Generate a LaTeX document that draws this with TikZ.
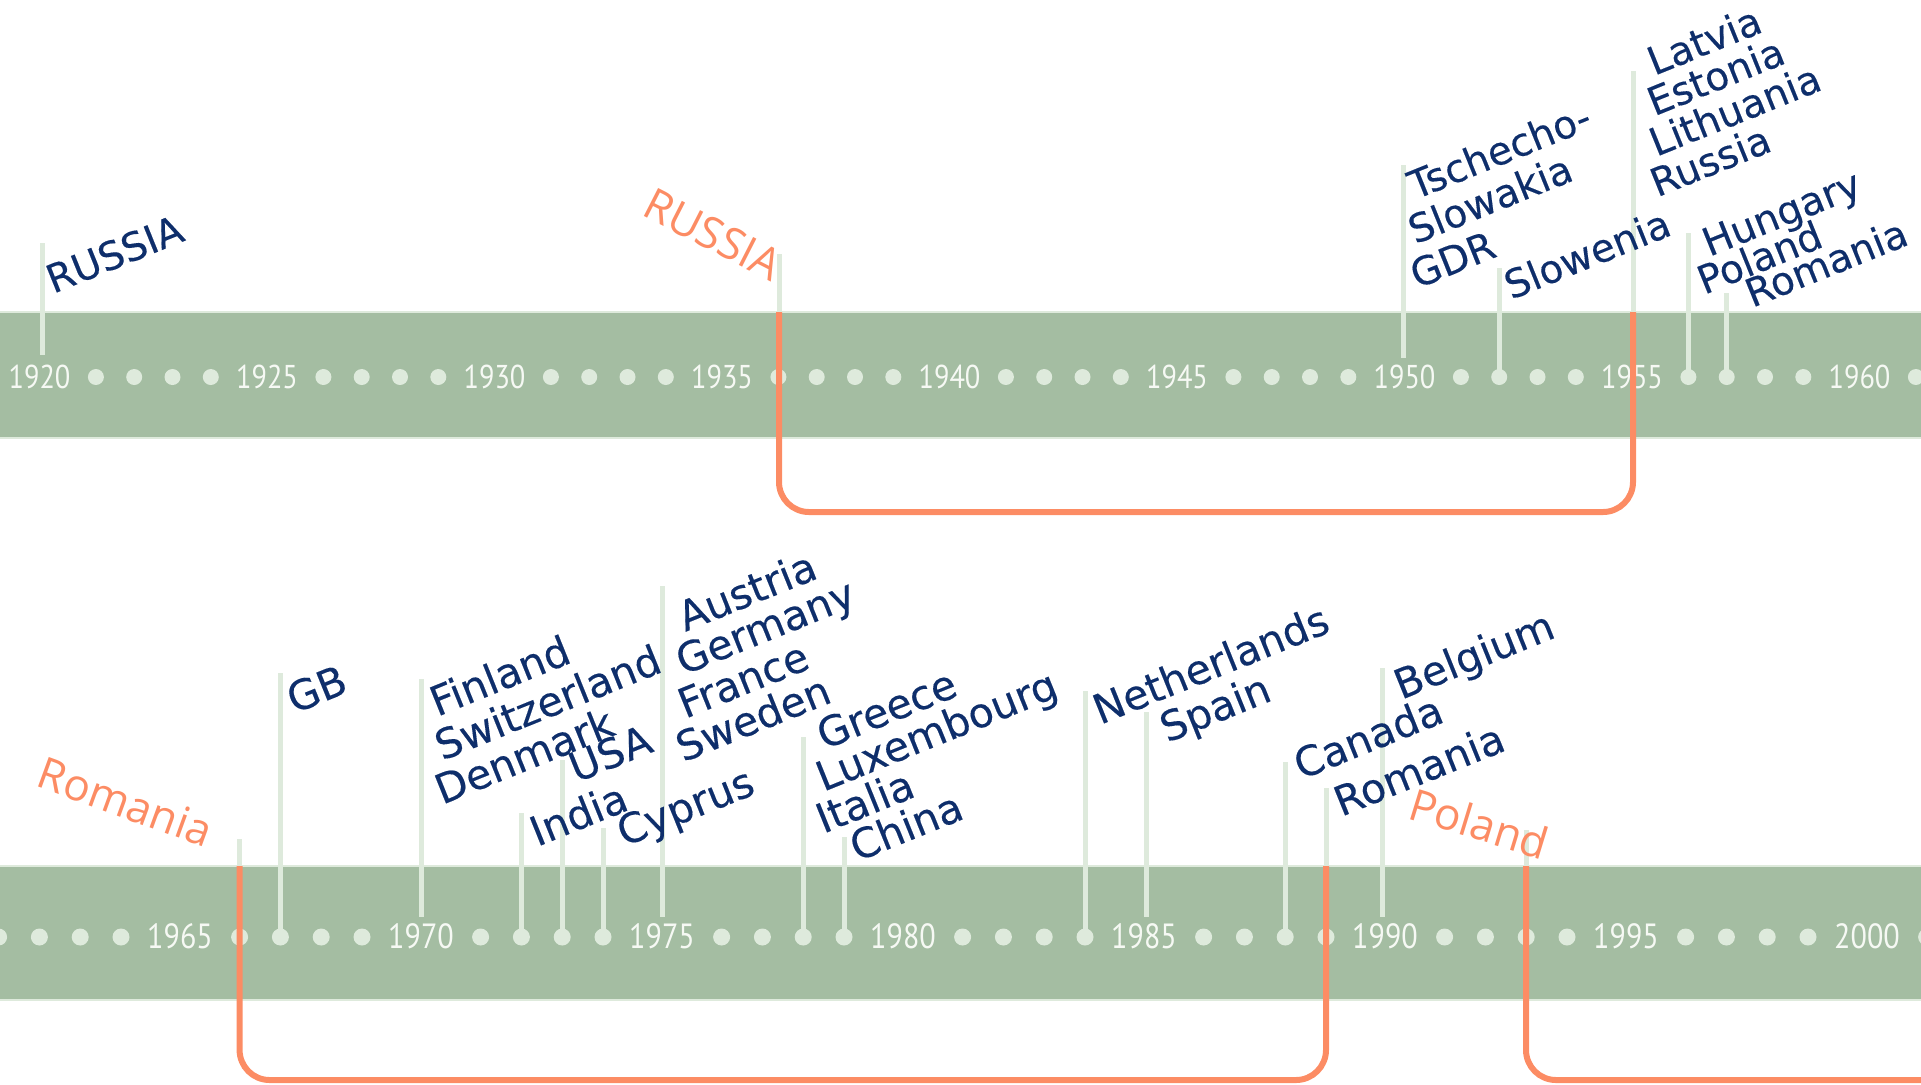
\documentclass[tikz,border=0pt]{standalone}
\usepackage{fontspec}
\setmainfont{DejaVu Sans}
\newfontfamily\navyfont{DejaVu Sans}[FakeBold=0.3]
\newfontfamily\yearfont{PT Sans}
\newfontfamily\orfont{Open Sans}
\definecolor{band}{RGB}{164,189,162}
\definecolor{pale}{RGB}{222,234,220}
\definecolor{navy}{RGB}{14,46,107}
\definecolor{salmon}{RGB}{252,140,100}
\definecolor{yeartext}{RGB}{246,249,244}
\begin{document}
\begin{tikzpicture}[x=0.5pt,y=-0.5pt,
  yeartop/.style={text=yeartext, font=\yearfont\fontsize{16.5}{18}\selectfont, inner sep=0pt, xscale=0.86},
  yearbot/.style={text=yeartext, font=\yearfont\fontsize{17.5}{19}\selectfont, inner sep=0pt, xscale=0.86},
  dottop/.style={circle, fill=pale, inner sep=0pt, minimum size=8pt},
  dotbot/.style={circle, fill=pale, inner sep=0pt, minimum size=8.5pt},
  stem/.style={draw=pale, line width=2.5pt},
  link/.style={draw=salmon, line width=3pt, rounded corners=15pt},
  navytop/.style={text=navy, font=\navyfont\fontsize{19.5}{21}\selectfont, anchor=base west, inner sep=0pt, xshift=2pt, rotate=22},
  navybot/.style={text=navy, font=\navyfont\fontsize{20.5}{22}\selectfont, anchor=base west, inner sep=0pt, xshift=2pt, rotate=22},
  orlabel/.style={text=salmon, font=\orfont\fontsize{22}{24}\selectfont, anchor=base east, inner sep=0pt},
]
\useasboundingbox (0,0) rectangle (1921,1084);
\clip (0,0) rectangle (1921,1084);
% bands
\fill[band] (0,312) rectangle (1921,438);
\fill[band] (0,866) rectangle (1921,1000);
\draw[pale, line width=0.6pt] (0,312) -- (1921,312) (0,438) -- (1921,438);
\draw[pale, line width=0.6pt] (0,866) -- (1921,866) (0,1000) -- (1921,1000);
% top years and dots
\foreach \k in {0,...,8} {
  \pgfmathtruncatemacro\yr{1920+5*\k}
  \node[yeartop] (yr\yr) at ({39.5+227.5*\k},377) {\yr};
  \foreach \j in {0,...,3} {
    \node[dottop] (dt\yr\j) at ({39.5+227.5*\k+56.4+38.3*\j},377) {};
  }
}
% bottom years and dots
\foreach \j in {0,...,3} {
  \node[dotbot] (db1960\j) at ({180-241+59.6+40.8*\j},937) {};
}
\foreach \k in {0,...,7} {
  \pgfmathtruncatemacro\yr{1965+5*\k}
  \node[yearbot] (yr\yr) at ({180+241*\k},936) {\yr};
  \foreach \j in {0,...,3} {
    \node[dotbot] (db\yr\j) at ({180+241*\k+59.6+40.8*\j},937) {};
  }
}
% ---- top stems
\coordinate (b1920) at (42,355);   \coordinate (t1920) at (42,243);
\coordinate (b1936) at (779,312);  \coordinate (t1936) at (779,254);
\coordinate (b1950) at (1403,358); \coordinate (t1950) at (1403,165);
\coordinate (b1952) at (1499,377); \coordinate (t1952) at (1499,268);
\coordinate (b1955) at (1633,312); \coordinate (t1955) at (1633,71);
\coordinate (b1956) at (1688.4,377); \coordinate (t1956) at (1688.4,233);
\coordinate (b1957) at (1726.7,377); \coordinate (t1957) at (1726.7,293);
\foreach \e in {1920,1936,1950,1952,1955,1956,1957} { \draw[stem] (b\e) -- (t\e); }
% ---- bottom stems
\coordinate (b1966) at (239.6,866); \coordinate (t1966) at (239.6,839);
\coordinate (b1967) at (280.4,937); \coordinate (t1967) at (280.4,673);
\coordinate (b1970) at (421,917);   \coordinate (t1970) at (421,679);
\coordinate (b1972) at (521.4,937); \coordinate (t1972) at (521.4,813);
\coordinate (b1973) at (562.2,937); \coordinate (t1973) at (562.2,760);
\coordinate (b1974) at (603,937);   \coordinate (t1974) at (603,828);
\coordinate (b1975) at (662,917);   \coordinate (t1975) at (662,586);
\coordinate (b1978) at (803.2,937); \coordinate (t1978) at (803.2,737);
\coordinate (b1979) at (844,937);   \coordinate (t1979) at (844,837);
\coordinate (b1984) at (1085,937);  \coordinate (t1984) at (1085,691);
\coordinate (b1985) at (1146,917);  \coordinate (t1985) at (1146,712);
\coordinate (b1988) at (1285.2,937); \coordinate (t1988) at (1285.2,762);
\coordinate (b1989) at (1326,866);  \coordinate (t1989) at (1326,788);
\coordinate (b1990) at (1382,917);  \coordinate (t1990) at (1382,668);
\coordinate (b1993) at (1526,866);  \coordinate (t1993) at (1526,830);
\foreach \e in {1966,1967,1970,1972,1973,1974,1975,1978,1979,1984,1985,1988,1989,1990,1993} { \draw[stem] (b\e) -- (t\e); }
% ---- orange links
\coordinate (lowA) at (0,512);
\coordinate (lowB) at (0,1080);
\coordinate (rightend) at (1940,1080);
\draw[link] (b1936) -- (b1936 |- lowA) -- (b1955 |- lowA) -- (b1955);
\draw[link] (b1966) -- (b1966 |- lowB) -- (b1989 |- lowB) -- (b1989);
\draw[link] (b1993) -- (b1993 |- lowB) -- (rightend);
% ---- top labels
\node[navytop] (l1920) at (49,294) {RUSSIA};
\node[navytop] (l1950a) at (1411,200) {Tschecho-};
\node[navytop] (l1950b) at (1411,244.5) {Slowakia};
\node[navytop] (l1950c) at (1413,289) {GDR};
\node[navytop] (l1952) at (1507,300) {Slowenia};
\node[navytop] (l1955a) at (1650,76) {Latvia};
\node[navytop] (l1955b) at (1650,116.5) {Estonia};
\node[navytop] (l1955c) at (1652,157) {Lithuania};
\node[navytop] (l1955d) at (1653,197.5) {Russia};
\node[navytop] (l1956a) at (1705,257) {Hungary};
\node[navytop] (l1956b) at (1700,295) {Poland};
\node[navytop] (l1957) at (1748,308) {Romania};
\node[orlabel, rotate=-27] (o1936) at (772,282) {RUSSIA};
% ---- bottom labels
\node[navybot] (l1967) at (290,714) {GB};
\node[navybot] (l1970a) at (433,717) {Finland};
\node[navybot] (l1970b) at (438,761) {Switzerland};
\node[navybot] (l1970c) at (438,805) {Denmark};
\node[navybot] (l1972) at (533,847) {India};
\node[navybot] (l1973) at (572,783) {USA};
\node[navybot] (l1974) at (620,847) {Cyprus};
\node[navybot] (l1975a) at (681,632) {Austria};
\node[navybot] (l1975b) at (679,675.5) {Germany};
\node[navybot] (l1975c) at (681,719) {France};
\node[navybot] (l1975d) at (679,762.5) {Sweden};
\node[navybot] (l1978a) at (820,750) {Greece};
\node[navybot] (l1978b) at (819,792) {Luxembourg};
\node[navybot] (l1978c) at (819,834) {Italia};
\node[navybot] (l1979) at (853,862) {China};
\node[navybot] (l1984) at (1096,725) {Netherlands};
\node[navybot] (l1985) at (1163,743) {Spain};
\node[navybot] (l1988) at (1297,780) {Canada};
\node[navybot] (l1989) at (1337,817) {Romania};
\node[navybot] (l1990) at (1397,700) {Belgium};
\node[orlabel, rotate=-20] (o1966) at (206,848) {Romania};
\node[orlabel, rotate=-17] (o1993) at (1543,860) {Poland};
\end{tikzpicture}
\end{document}
